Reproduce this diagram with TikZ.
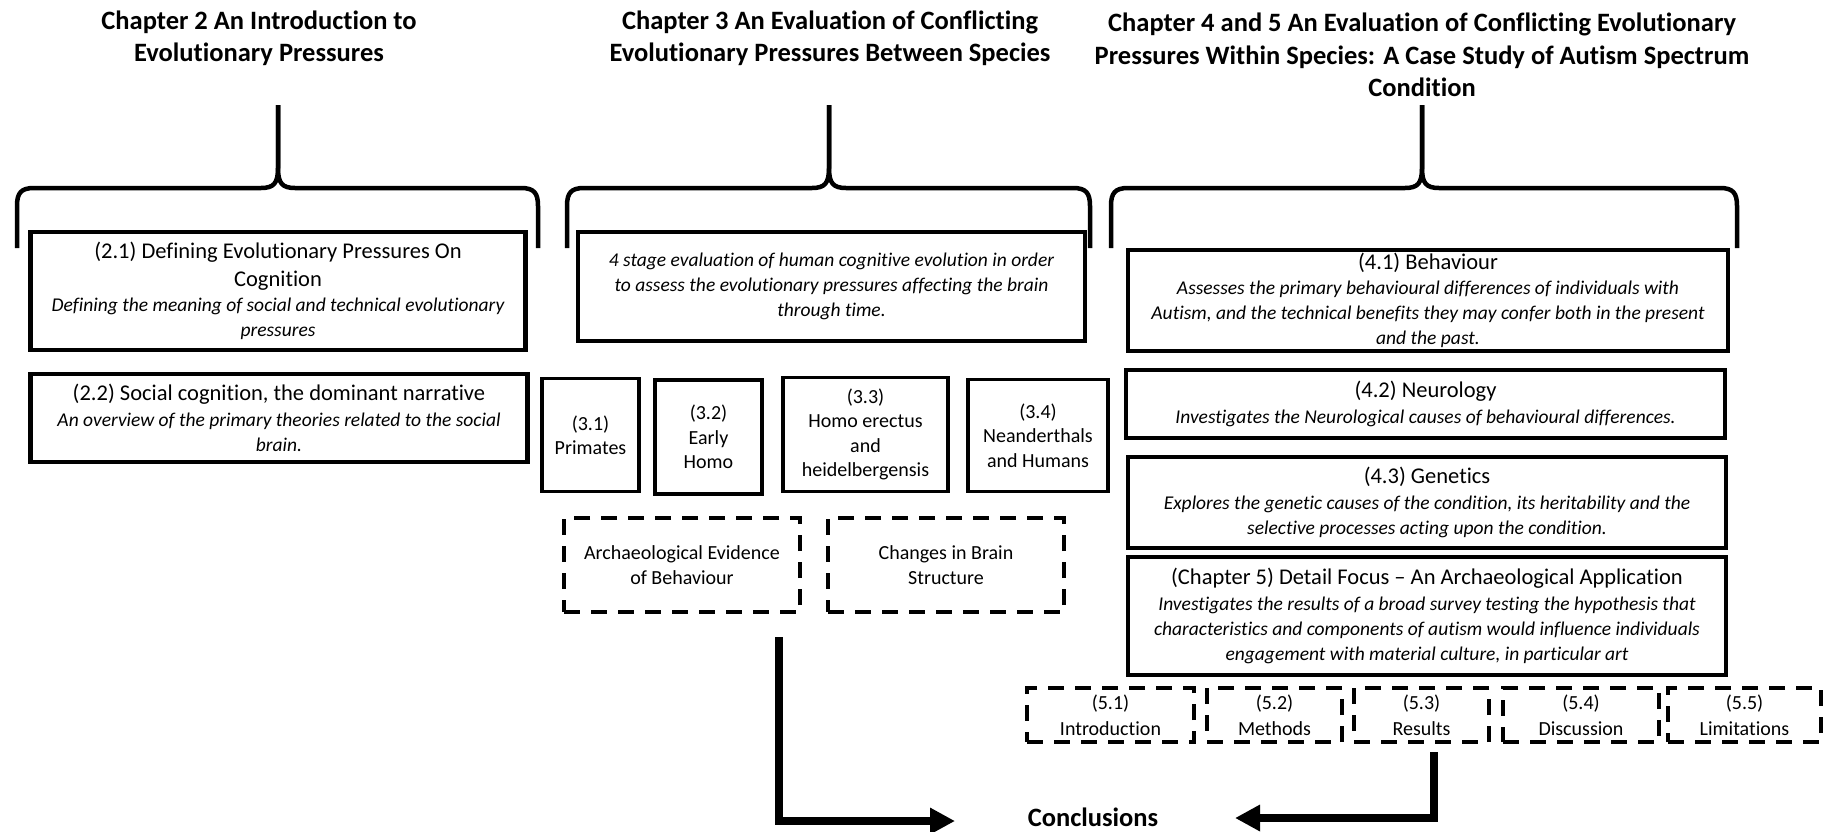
\documentclass[tikz,border=0pt]{standalone}
\usepackage{fontspec}
\setmainfont{Carlito}[Ligatures=NoCommon]
\usetikzlibrary{arrows.meta}
\newcommand\fttl{\bfseries\fontsize{26.5}{32.5}\selectfont}
\newcommand\freg{\upshape\mdseries\fontsize{22.5}{28}\selectfont}
\newcommand\fitl{\itshape\mdseries\fontsize{19.5}{24.5}\selectfont}
\newcommand\fsml{\upshape\mdseries\fontsize{20}{24.5}\selectfont}
\newcommand\chapbrace[3]{%
 \draw[bracestyle] (#1,248) -- (#1,206) .. controls (#1,193) and (#1+4,188) .. (#1+17,188) -- (#2-17,188) .. controls (#2-4,188) and (#2,183) .. (#2,168) -- (#2,105);
 \draw[bracestyle] (#3,248) -- (#3,206) .. controls (#3,193) and (#3-4,188) .. (#3-17,188) -- (#2+17,188) .. controls (#2+4,188) and (#2,183) .. (#2,168) -- (#2,105);
}
\begin{document}
\begin{tikzpicture}[x=1pt,y=-1pt,
  bracestyle/.style={line width=4.5pt,line join=round},
  title/.style={font=\fttl,align=center,inner sep=0pt},
  bigbox/.style={draw,line width=4.5pt,align=center,inner sep=0pt,font=\fitl},
  stagebox/.style={draw,line width=3.5pt,align=center,inner sep=0pt,font=\fsml},
  dbox/.style={draw,line width=3.5pt,dash pattern=on 16pt off 11pt,align=center,inner sep=0pt,font=\fsml},
  flow/.style={line width=8pt,line join=miter,-{Triangle[length=25pt,width=25pt]}}]
\useasboundingbox (0,0) rectangle (1827,831);

% titles
\node[title] (t2) at (259,38.5) {Chapter 2 An Introduction to\\Evolutionary Pressures};
\node[title] (t3) at (830,38.5) {Chapter 3 An Evaluation of Conflicting\\Evolutionary Pressures Between Species};
\node[title] (t45) at (1422,55) {Chapter 4 and 5 An Evaluation of Conflicting Evolutionary\\Pressures Within Species: A Case Study of Autism Spectrum\\Condition};

% braces
\chapbrace{17}{278}{538}
\chapbrace{567}{829}{1090}
\chapbrace{1111}{1422}{1737}

% chapter 2
\node[bigbox,minimum width=495,minimum height=118] (b21) at (278,291)
 {\freg (2.1) Defining Evolutionary Pressures On\\[3.5pt]\freg Cognition\\[1pt]\fitl Defining the meaning of social and technical evolutionary\\[0.5pt]\fitl pressures};
\node[bigbox,minimum width=497,minimum height=88] (b22) at (279,418)
 {\freg (2.2) Social cognition, the dominant narrative\\[1pt]\fitl An overview of the primary theories related to the social\\[0.5pt]\fitl brain.};

% chapter 3
\node[bigbox,minimum width=507,minimum height=109] (b3) at (831.5,286.5)
 {\fitl 4 stage evaluation of human cognitive evolution in order\\[0.5pt]\fitl to assess the evolutionary pressures affecting the brain\\[0.5pt]\fitl through time.};
\node[stagebox,minimum width=97,minimum height=113] (b31) at (590.5,435) {(3.1)\\Primates};
\node[stagebox,minimum width=107,minimum height=114] (b32) at (708.5,437) {(3.2)\\Early\\Homo};
\node[stagebox,minimum width=165,minimum height=114] (b33) at (865.5,434.5) {(3.3)\\Homo erectus\\and\\heidelbergensis};
\node[stagebox,minimum width=140,minimum height=112] (b34) at (1038,435.5) {(3.4)\\Neanderthals\\and Humans};
\node[dbox,minimum width=236,minimum height=94] (dA) at (682,565) {Archaeological Evidence\\of Behaviour};
\node[dbox,minimum width=236,minimum height=94] (dB) at (946,565) {Changes in Brain\\Structure};

% chapters 4 and 5
\node[bigbox,minimum width=600,minimum height=101] (b41) at (1428,300.5)
 {\freg (4.1) Behaviour\\[1pt]\fitl Assesses the primary behavioural differences of individuals with\\[0.5pt]\fitl Autism, and the technical benefits they may confer both in the present\\[0.5pt]\fitl and the past.};
\node[bigbox,minimum width=599,minimum height=68] (b42) at (1425.5,404)
 {\freg (4.2) Neurology\\[1pt]\fitl Investigates the Neurological causes of behavioural differences.};
\node[bigbox,minimum width=598,minimum height=91] (b43) at (1427,502.5)
 {\freg (4.3) Genetics\\[1pt]\fitl Explores the genetic causes of the condition, its heritability and the\\[0.5pt]\fitl selective processes acting upon the condition.};
\node[bigbox,minimum width=598,minimum height=118] (b5) at (1427,616)
 {\freg (Chapter 5) Detail Focus – An Archaeological Application\\[2pt]\fitl Investigates the results of a broad survey testing the hypothesis that\\[0.5pt]\fitl characteristics and components of autism would influence individuals\\[0.5pt]\fitl engagement with material culture, in particular art};

\node[dbox,minimum width=167,minimum height=54] (b51) at (1110.5,715) {(5.1)\\[1.5pt]Introduction};
\node[dbox,minimum width=135,minimum height=54] (b52) at (1274.5,715) {(5.2)\\[1.5pt]Methods};
\node[dbox,minimum width=135,minimum height=54] (b53) at (1421.5,715) {(5.3)\\[1.5pt]Results};
\node[dbox,minimum width=156,minimum height=54] (b54) at (1581,715) {(5.4)\\[1.5pt]Discussion};
\node[dbox,minimum width=153,minimum height=54] (b55) at (1744.5,715) {(5.5)\\[1.5pt]Limitations};

% conclusions
\node[title] (conc) at (1093,817) {Conclusions};
\coordinate (lstart) at (779,637);
\coordinate (lend) at (955,821);
\coordinate (rstart) at (1434,752);
\coordinate (rend) at (1235,818);
\draw[flow] (lstart) |- (lend);
\draw[flow] (rstart) |- (rend);
\end{tikzpicture}
\end{document}
